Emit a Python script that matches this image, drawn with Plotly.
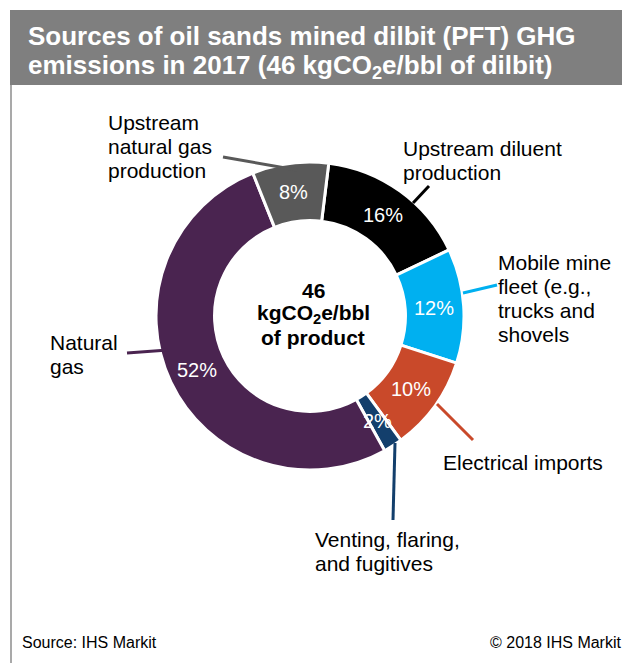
import math
import plotly.graph_objects as go

# data
sources = ["Upstream diluent production", "Mobile mine fleet (e.g., trucks and shovels",
           "Electrical imports", "Venting, flaring, and fugitives", "Natural gas",
           "Upstream natural gas production"]
shares = [16, 12, 10, 2, 52, 8]
slice_colors = ["#000000", "#00B0F0", "#C9492A", "#133F6C", "#4A2450", "#595959"]
label_lines = [
    ["Upstream diluent", "production"],
    ["Mobile mine", "fleet (e.g.,", "trucks and", "shovels"],
    ["Electrical imports"],
    ["Venting, flaring,", "and fugitives"],
    ["Natural", "gas"],
    ["Upstream", "natural gas", "production"],
]
center_lines = ["46", "kgCO<sub>2</sub>e/bbl", "of product"]
title_lines = ["Sources of oil sands mined dilbit (PFT) GHG",
               "emissions in 2017 (46 kgCO<sub>2</sub>e/bbl of dilbit)"]

# page is 630x663, the plot div sits inside the 8px body margin
PAGE_W, PAGE_H = 630, 663
OFF = 8
W, H = PAGE_W - OFF, PAGE_H - OFF
FONT = "Arial, Liberation Sans, sans-serif"

# pie geometry in page pixels
CX, CY, R = 310, 316, 154
HOLE = 0.62
ROT = 7


def px(x):
    return (x - OFF) / W


def py(y):
    return 1 - (y - OFF) / H


def note(x, y, text, size, color="black", xanchor="left", yanchor="middle"):
    return dict(x=px(x), y=py(y), xref="paper", yref="paper", showarrow=False,
                text=text, xanchor=xanchor, yanchor=yanchor, borderpad=0, borderwidth=0,
                font=dict(family=FONT, size=size, color=color))


fig = go.Figure()
fig.add_trace(go.Pie(
    values=shares,
    labels=sources,
    sort=False,
    direction="clockwise",
    rotation=ROT,
    hole=HOLE,
    textinfo="none",
    hoverinfo="label+percent",
    marker=dict(colors=slice_colors, line=dict(color="white", width=3)),
    domain=dict(x=[px(CX - R), px(CX + R)], y=[py(CY + R), py(CY - R)]),
    showlegend=False,
))

annotations = []
shapes = []

# percent labels at the middle of each slice
total = sum(shares)
cum = 0
r_mid = R * (1 + HOLE) / 2
for v in shares:
    ang = math.radians(ROT + 360 * (cum + v / 2) / total)
    cum += v
    annotations.append(note(CX + r_mid * math.sin(ang), CY - r_mid * math.cos(ang),
                            f"{round(100 * v / total)}%", 20, "white", "center"))

# outside labels and leader lines
label_pos = [(403, 148), (498, 262), (443, 462), (315, 539), (50, 342), (108, 122)]
leaders = [((413, 203), (429, 186)), ((463, 293), (497, 285)), ((437, 404), (473, 440)),
           ((395, 443), (393, 520)), ((127, 353), (168, 350)), ((223, 157), (297, 170))]
LINE_GAP = 24

for lines, (lx, ly), ((x0, y0), (x1, y1)), col in zip(label_lines, label_pos, leaders, slice_colors):
    for i, t in enumerate(lines):
        annotations.append(note(lx, ly + i * LINE_GAP, t, 21))
    shapes.append(dict(type="line", xref="paper", yref="paper",
                       x0=px(x0), y0=py(y0), x1=px(x1), y1=py(y1),
                       line=dict(color=col, width=3)))

# centre text
for i, t in enumerate(center_lines):
    annotations.append(note(313, 290 + i * 24, f"<b>{t}</b>", 21, xanchor="center"))

# title bar
shapes.append(dict(type="rect", xref="paper", yref="paper",
                   x0=px(10), x1=1, y0=py(85), y1=py(10),
                   fillcolor="#7F7F7F", line=dict(width=0), layer="below"))
shapes.append(dict(type="line", xref="paper", yref="paper",
                   x0=px(11), x1=px(11), y0=py(85), y1=0,
                   line=dict(color="#8C8C8C", width=1.5)))
for i, t in enumerate(title_lines):
    annotations.append(note(28, 36 + i * 31, f"<b>{t}</b>", 26, "white"))

# footer
annotations.append(note(22, 642, "Source: IHS Markit", 16))
annotations.append(note(622, 642, "© 2018 IHS Markit", 16, xanchor="right"))

fig.update_layout(
    width=W, height=H,
    margin=dict(l=0, r=0, t=0, b=0),
    paper_bgcolor="white",
    plot_bgcolor="white",
    annotations=annotations,
    shapes=shapes,
)

fig.write_html("out.html")
